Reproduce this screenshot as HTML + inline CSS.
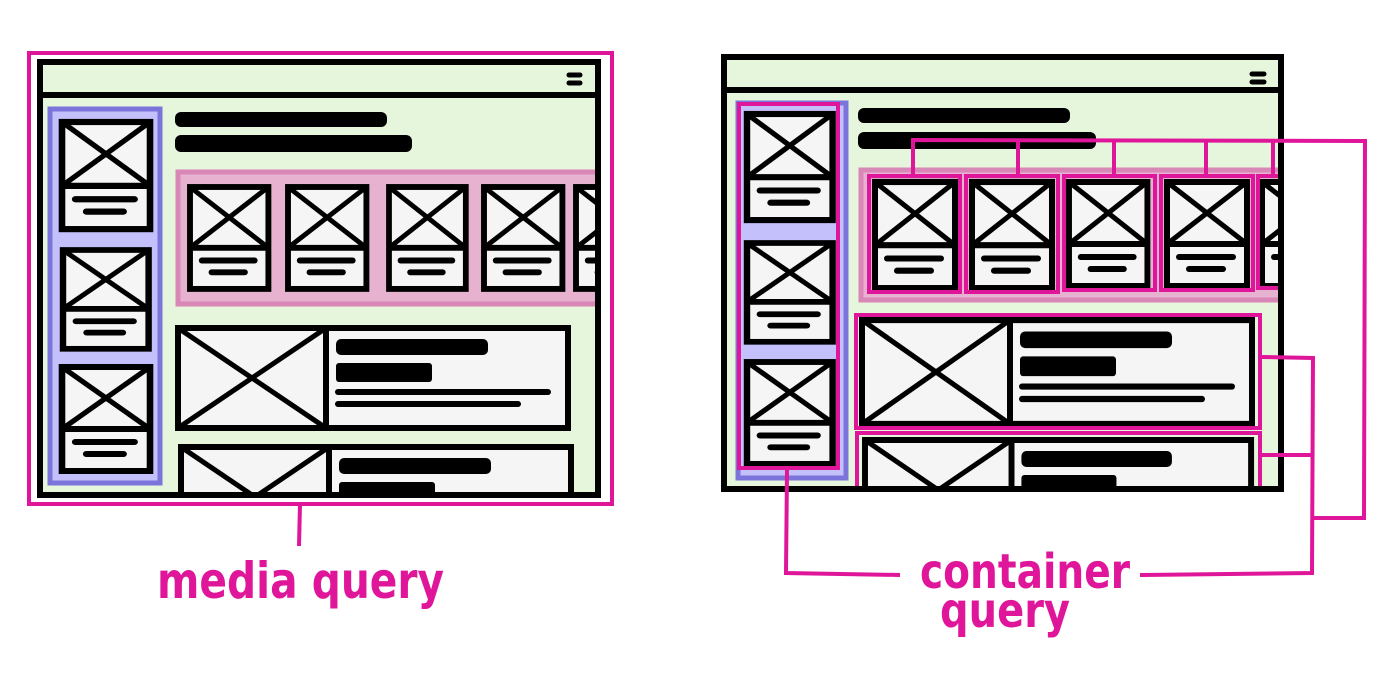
<!DOCTYPE html>
<html><head><meta charset="utf-8"><style>
html,body{margin:0;padding:0;background:#fff;width:1400px;height:678px;overflow:hidden}
svg{display:block}
text{font-family:"DejaVu Sans","Liberation Sans",sans-serif;fill:#e0169a;font-weight:bold}
</style></head><body>
<svg width="1400" height="678" viewBox="0 0 1400 678" xmlns="http://www.w3.org/2000/svg">
<defs>
<g id="sc">
<rect x="0" y="0" width="80" height="104" fill="#f5f5f5" stroke="#000" stroke-width="6"/>
<line x1="0" y1="62" x2="80" y2="62" stroke="#000" stroke-width="6"/>
<line x1="0" y1="0" x2="80" y2="62" stroke="#000" stroke-width="5"/>
<line x1="80" y1="0" x2="0" y2="62" stroke="#000" stroke-width="5"/>
<line x1="12" y1="75" x2="66" y2="75" stroke="#000" stroke-width="6" stroke-linecap="round"/>
<line x1="22" y1="87" x2="56" y2="87" stroke="#000" stroke-width="6" stroke-linecap="round"/>
</g>
<g id="bc">
<rect x="0" y="0" width="390" height="100" fill="#f5f5f5" stroke="#000" stroke-width="6"/>
<line x1="148" y1="0" x2="148" y2="100" stroke="#000" stroke-width="6"/>
<line x1="0" y1="0" x2="148" y2="100" stroke="#000" stroke-width="5"/>
<line x1="148" y1="0" x2="0" y2="100" stroke="#000" stroke-width="5"/>
<rect x="158" y="11" width="152" height="16" rx="5" fill="#000"/>
<rect x="158" y="35" width="96" height="19" rx="3" fill="#000"/>
<line x1="160" y1="64" x2="370" y2="64" stroke="#000" stroke-width="6" stroke-linecap="round"/>
<line x1="160" y1="76" x2="340" y2="76" stroke="#000" stroke-width="6" stroke-linecap="round"/>
</g>
<clipPath id="cl"><rect x="42" y="64" width="554" height="429"/></clipPath>
<clipPath id="cr"><rect x="726" y="59" width="553" height="428"/></clipPath>
</defs>

<!-- LEFT -->
<rect x="40" y="62" width="558" height="433" fill="#e6f6dc"/>
<g clip-path="url(#cl)">
<rect x="50" y="109" width="110" height="374" fill="#c3c0fb" stroke="#7b74da" stroke-width="5"/>
<use href="#sc" transform="translate(62,122) scale(1.1,1.03)"/>
<use href="#sc" transform="translate(63,250) scale(1.07,0.95)"/>
<use href="#sc" transform="translate(62,367) scale(1.1,1.0)"/>
<rect x="175" y="112" width="212" height="15" rx="6" fill="#000"/>
<rect x="175" y="135" width="237" height="17" rx="6" fill="#000"/>
<rect x="178" y="172" width="420" height="132" fill="#e6b2d0" stroke="#d887b7" stroke-width="5"/>
<use href="#sc" transform="translate(190,187) scale(0.98,0.98)"/>
<use href="#sc" transform="translate(288,187) scale(0.98,0.98)"/>
<use href="#sc" transform="translate(389,187) scale(0.96,0.98)"/>
<use href="#sc" transform="translate(484,187) scale(0.98,0.98)"/>
<use href="#sc" transform="translate(576,187) scale(0.98,0.98)"/>
<use href="#bc" transform="translate(178,328) scale(1.0,1.0)"/>
<use href="#bc" transform="translate(181,447) scale(1.0,1.0)"/>
</g>
<rect x="40" y="62" width="558" height="433" fill="none" stroke="#000" stroke-width="6"/>
<line x1="40" y1="95" x2="598" y2="95" stroke="#000" stroke-width="6"/>
<line x1="569" y1="75" x2="580" y2="75" stroke="#000" stroke-width="5" stroke-linecap="round"/>
<line x1="569" y1="83" x2="580" y2="83" stroke="#000" stroke-width="5" stroke-linecap="round"/>
<rect x="29" y="53" width="583" height="451" fill="none" stroke="#e0169a" stroke-width="4"/>
<line x1="300" y1="504" x2="299" y2="546" stroke="#e0169a" stroke-width="4"/>
<text x="157" y="598" font-size="50" textLength="287" lengthAdjust="spacingAndGlyphs">media query</text>

<!-- RIGHT -->
<rect x="724" y="57" width="557" height="432" fill="#e6f6dc"/>
<g clip-path="url(#cr)">
<rect x="738" y="103" width="108" height="375" fill="#c3c0fb" stroke="#7b74da" stroke-width="5"/>
<use href="#sc" transform="translate(747,114) scale(1.07,1.02)"/>
<use href="#sc" transform="translate(747,243) scale(1.07,0.95)"/>
<use href="#sc" transform="translate(747,362) scale(1.07,0.98)"/>
<rect x="739" y="104" width="99" height="364" fill="none" stroke="#e0169a" stroke-width="4"/>
<rect x="858" y="108" width="212" height="15" rx="6" fill="#000"/>
<rect x="858" y="132" width="238" height="17" rx="6" fill="#000"/>
<rect x="861" y="170" width="420" height="130" fill="#e6b2d0" stroke="#d887b7" stroke-width="5"/>
<use href="#sc" transform="translate(875,182) scale(1.0,1.02)"/>
<use href="#sc" transform="translate(972,182) scale(1.0,1.02)"/>
<use href="#sc" transform="translate(1069,182) scale(0.98,1.0)"/>
<use href="#sc" transform="translate(1167,182) scale(1.0,1.0)"/>
<use href="#sc" transform="translate(1262,182) scale(1.0,1.0)"/>
<rect x="869" y="176" width="91" height="116" fill="none" stroke="#e0169a" stroke-width="4"/>
<rect x="966" y="176" width="92" height="116" fill="none" stroke="#e0169a" stroke-width="4"/>
<rect x="1064" y="176" width="91" height="114" fill="none" stroke="#e0169a" stroke-width="4"/>
<rect x="1161" y="176" width="92" height="114" fill="none" stroke="#e0169a" stroke-width="4"/>
<rect x="1258" y="176" width="40" height="112" fill="none" stroke="#e0169a" stroke-width="4"/>
<use href="#bc" transform="translate(862,320) scale(1.0,1.04)"/>
<use href="#bc" transform="translate(865,440) scale(0.99,1.0)"/>
<rect x="856" y="315" width="404" height="113" fill="none" stroke="#e0169a" stroke-width="4"/>
<rect x="857" y="433" width="403" height="70" fill="none" stroke="#e0169a" stroke-width="4"/>
</g>
<rect x="724" y="57" width="557" height="432" fill="none" stroke="#000" stroke-width="6"/>
<line x1="724" y1="90" x2="1281" y2="90" stroke="#000" stroke-width="6"/>
<line x1="1252" y1="74" x2="1264" y2="74" stroke="#000" stroke-width="5" stroke-linecap="round"/>
<line x1="1252" y1="82" x2="1264" y2="82" stroke="#000" stroke-width="5" stroke-linecap="round"/>

<g fill="none" stroke="#e0169a" stroke-width="4">
<polyline points="913,176 913,140 1365,141 1364,518 1311,518"/>
<line x1="1018" y1="140" x2="1018" y2="176"/>
<line x1="1114" y1="140" x2="1114" y2="176"/>
<line x1="1206" y1="140" x2="1206" y2="176"/>
<line x1="1273" y1="140" x2="1273" y2="176"/>
<polyline points="1262,357 1313,358 1312,573 1140,575"/>
<line x1="1262" y1="455" x2="1312" y2="455"/>
<polyline points="787,470 786,573 900,575"/>
</g>
<text x="920" y="588" font-size="48" textLength="210" lengthAdjust="spacingAndGlyphs">container</text>
<text x="940" y="627" font-size="48" textLength="130" lengthAdjust="spacingAndGlyphs">query</text>
</svg>
</body></html>
